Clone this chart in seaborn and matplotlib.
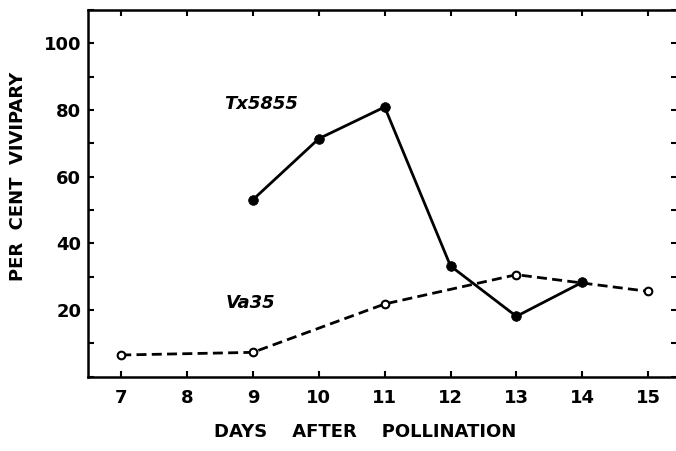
import pandas as pd
import matplotlib
matplotlib.use("Agg")
import matplotlib.pyplot as plt
import seaborn as sns
from matplotlib.ticker import MultipleLocator

# values
tx_days = [9, 10, 11, 12, 13, 14]
tx_vivipary = [53.1, 71.4, 80.9, 33.2, 18.1, 28.3]
va_days = [7, 9, 11, 13, 15]
va_vivipary = [6.5, 7.3, 21.8, 30.6, 25.6]
x_ticks = [7, 8, 9, 10, 11, 12, 13, 14, 15]
y_ticks = [20, 40, 60, 80, 100]

sns.set_style("ticks")
plt.rcParams['font.family'] = ['DejaVu Sans']
plt.rcParams['font.weight'] = 'bold'
for k in ['text.color', 'axes.labelcolor', 'xtick.color', 'ytick.color', 'axes.edgecolor']:
    plt.rcParams[k] = 'black'

fig = plt.figure(figsize=(6.76, 4.51), dpi=100)
ax = fig.add_axes([0.1306, 0.1648, 0.871, 0.813])

va = pd.DataFrame({'day': va_days, 'pct': va_vivipary})
tx = pd.DataFrame({'day': tx_days, 'pct': tx_vivipary})

sns.lineplot(data=va, x='day', y='pct', ax=ax, color='black', linewidth=2.0,
             linestyle=(0, (3.6, 1.9)), marker='o', markersize=5.5,
             markerfacecolor='white', markeredgecolor='black',
             markeredgewidth=1.5, zorder=3)
sns.lineplot(data=tx, x='day', y='pct', ax=ax, color='black', linewidth=2.0,
             marker='o', markersize=7, markerfacecolor='black',
             markeredgecolor='black', markeredgewidth=0.5, zorder=4)

ax.text(8.57, 81.8, 'Tx5855', fontsize=13, fontweight='bold', style='italic',
        va='center', ha='left')
ax.text(8.59, 22.2, 'Va35', fontsize=13, fontweight='bold', style='italic',
        va='center', ha='left')

ax.set_xlim(6.5, 15.44)
ax.set_ylim(0, 110)
ax.set_xticks(x_ticks)
ax.set_xticklabels([str(d) for d in x_ticks])
ax.set_yticks(y_ticks)
ax.yaxis.set_minor_locator(MultipleLocator(10))

for s in ['left', 'bottom', 'top']:
    ax.spines[s].set_linewidth(1.8)
ax.spines['right'].set_visible(False)

ax.tick_params(axis='x', which='major', direction='in', length=4, width=1.5,
               top=True, bottom=True, labelsize=13, pad=9)
ax.tick_params(axis='y', which='both', direction='in', length=4, width=1.5,
               left=True, right=True, labelsize=13, pad=5)

ax.set_xlabel('DAYS    AFTER    POLLINATION', fontsize=13, fontweight='bold')
ax.set_ylabel('PER  CENT  VIVIPARY', fontsize=13, fontweight='bold')
ax.xaxis.set_label_coords(0.47, -0.125)
ax.yaxis.set_label_coords(-0.104, 0.547)

fig.savefig('out.png', dpi=100)
